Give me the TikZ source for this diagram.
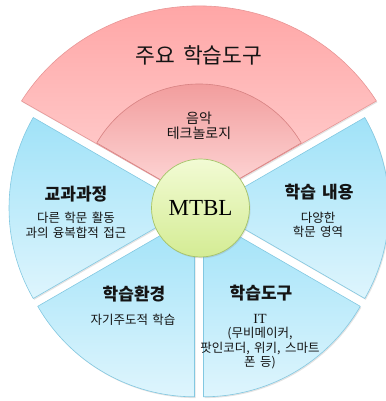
\documentclass[tikz,border=0pt]{standalone}
\usepackage{fontspec}
\usetikzlibrary{shadows}
\newfontfamily\kr[WordSpace=1.6]{Noto Sans CJK KR}
\newfontfamily\serifen{Liberation Serif}
\definecolor{bluetop}{RGB}{160,226,248}
\definecolor{bluebot}{RGB}{222,245,253}
\definecolor{blueline}{RGB}{130,200,225}
\definecolor{redtop}{RGB}{255,160,160}
\definecolor{redbot}{RGB}{255,212,212}
\definecolor{redline}{RGB}{232,150,150}
\definecolor{redintop}{RGB}{240,148,148}
\definecolor{redinbot}{RGB}{255,222,222}
\definecolor{redinline}{RGB}{215,130,130}
\definecolor{greentop}{RGB}{242,251,212}
\definecolor{greenbot}{RGB}{212,236,148}
\definecolor{greenline}{RGB}{165,195,105}
\definecolor{txt}{RGB}{20,20,20}
\tikzset{
  shad/.style={drop shadow={opacity=0.22, shadow xshift=1pt, shadow yshift=-1.3pt}},
  bluesec/.style={top color=bluetop, bottom color=bluebot, draw=blueline, line width=0.6pt, shad},
  redout/.style={top color=redtop, bottom color=redbot, draw=redline, line width=0.6pt, shad},
  redin/.style={top color=redintop, bottom color=redinbot, draw=redinline, line width=0.6pt},
  hub/.style={circle, minimum size=98pt, inner sep=0pt, top color=greentop, bottom color=greenbot, draw=greenline, line width=0.7pt, shad, font=\serifen\fontsize{23}{26}\selectfont},
  title/.style={inner sep=0pt, text=txt, font=\kr\bfseries\fontsize{17}{20}\selectfont},
  bigtitle/.style={inner sep=0pt, text=txt, font=\kr\fontsize{21.5}{24}\selectfont},
  sub/.style={inner sep=0pt, align=center, text=txt, font=\kr\fontsize{12.5}{14.5}\selectfont},
  midsub/.style={inner sep=0pt, align=center, text=txt, font=\kr\fontsize{14}{15}\selectfont}
}
\begin{document}
\begin{tikzpicture}[x=1pt,y=1pt]
\useasboundingbox (0,0) rectangle (385,401);
% blue sectors
\path[bluesec] (190,193) -- ++(150:181) arc[start angle=150, end angle=210, radius=181] -- cycle;
\path[bluesec] (194.5,185.2) -- ++(210:181) arc[start angle=210, end angle=270, radius=181] -- cycle;
\path[bluesec] (203.5,185.2) -- ++(270:181) arc[start angle=270, end angle=330, radius=181] -- cycle;
\path[bluesec] (208,193) -- ++(-30:181) arc[start angle=-30, end angle=30, radius=181] -- cycle;
% red sectors
\path[redout] (199,199) -- (21.5,300) arc[start angle=149, end angle=31, x radius=207, y radius=196] -- cycle;
\path[redin] (199,199) -- ++(150:118) arc[start angle=150, end angle=30, radius=118] -- cycle;
% hub
\node[hub] (mtbl) at (200.5,193) {MTBL};
% texts
\node[bigtitle] (top) at (199,346) {주요 학습도구};
\node[midsub] (music) at (199,275.5) {음악\\테크놀로지};
\node[title] (curr) at (76,207) {교과과정};
\node[sub] (currsub) at (76,175.5) {다른 학문 활동\\과의 융복합적 접근};
\node[title] (cont) at (319,209) {학습 내용};
\node[sub] (contsub) at (318,176) {다양한\\학문 영역};
\node[title] (env) at (134,107) {학습환경};
\node[sub] (envsub) at (133,81) {자기주도적 학습};
\node[title] (tool) at (261,108) {학습도구};
\node[sub] (toolsub) at (260,59.5) {{\serifen\fontsize{14}{14.5}\selectfont IT}\\(무비메이커,\\팟인코더, 위키, 스마트\\폰 등)};
\end{tikzpicture}
\end{document}
